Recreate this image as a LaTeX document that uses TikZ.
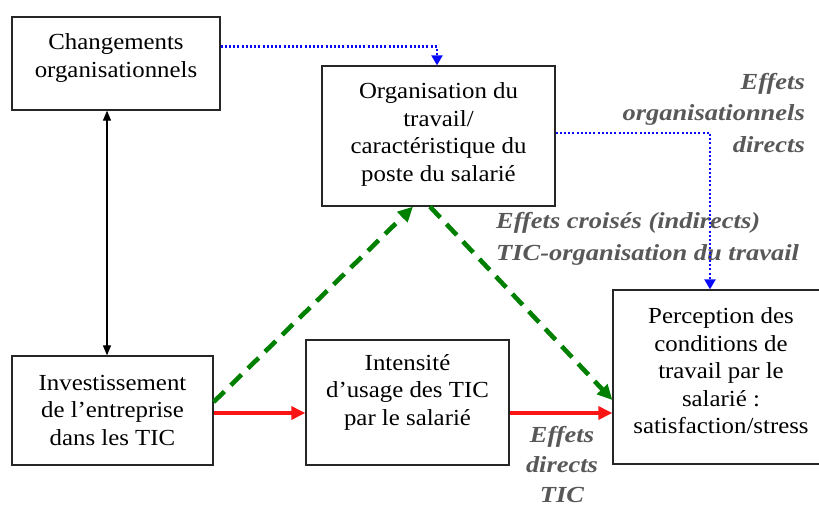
\documentclass[tikz,border=0pt]{standalone}
\usepackage{fontspec}
\setmainfont{Liberation Serif}[FakeStretch=1.08]
\newfontfamily\labfont{Liberation Serif}[FakeStretch=1.15]
\usetikzlibrary{arrows.meta}
\definecolor{labgray}{RGB}{88,88,88}
\definecolor{dotblue}{RGB}{10,10,250}
\definecolor{dgreen}{RGB}{0,128,0}
\definecolor{rred}{RGB}{250,20,20}
\tikzset{
  box/.style={draw=black!85, line width=1.3pt, rectangle, inner sep=0pt},
  txt/.style={align=center, font=\fontsize{23}{27.5}\selectfont, inner sep=0pt},
  lab/.style={text=labgray, font=\labfont\bfseries\itshape\fontsize{23}{31.5}\selectfont, inner sep=0pt},
  blueline/.style={draw=dotblue, line width=2.2pt, dash pattern=on 2pt off 2.2pt, -{Triangle[length=10pt,width=11pt,fill=dotblue]}},
  blackline/.style={draw=black, line width=1.1pt, {Triangle[length=10pt,width=8pt]}-{Triangle[length=10pt,width=8pt]}},
  redline/.style={draw=rred, line width=3.2pt, -{Triangle[length=14pt,width=13pt]}},
  greenline/.style={draw=dgreen, line width=4.6pt, dash pattern=on 15pt off 9pt, -{Triangle[length=15pt,width=14pt,fill=dgreen]}},
}
\begin{document}
\begin{tikzpicture}[x=1pt,y=-1pt]
\clip (0,0) rectangle (819,508);
\fill[white] (0,0) rectangle (819,508);
% boxes
\node[box, minimum width=208pt, minimum height=93pt] (b1) at (116,63.5) {};
\node[box, minimum width=233pt, minimum height=140pt] (b2) at (438.5,136) {};
\node[box, minimum width=201pt, minimum height=109pt] (b3) at (112.5,410.5) {};
\node[box, minimum width=203pt, minimum height=125pt] (b4) at (407.5,402.5) {};
\node[box, minimum width=217pt, minimum height=174pt] (b5) at (721.5,377) {};
% box texts
\node[txt] (t1) at (116,58) {Changements\\organisationnels};
\node[txt] (t2) at (438.5,134.5) {Organisation du\\travail/\\caractéristique du\\poste du salarié};
\node[txt] (t3) at (112.5,410) {Investissement\\de l’entreprise\\dans les TIC};
\node[txt] (t4) at (407.5,392) {Intensité\\d’usage des TIC\\par le salarié};
\node[txt] (t5) at (721,371) {Perception des\\conditions de\\travail par le\\salarié :\\satisfaction/stress};
% labels
\node[lab, align=right, anchor=east] (l1) at (805,113) {Effets\\organisationnels\\directs};
\node[lab, align=left, anchor=west] (l2) at (496,239) {Effets croisés (indirects)\\TIC-organisation du travail};
\node[lab, align=center, font=\labfont\bfseries\itshape\fontsize{23}{30}\selectfont] (l3) at (562,465) {Effets\\directs\\TIC};
% connectors
\coordinate (c1) at (437,46.5);
\coordinate (c2) at (710,133);
\draw[blueline] (b1.east |- c1) -- (c1) -- (c1 |- b2.north);
\draw[blueline] (b2.east |- c2) -- (c2) -- (c2 |- b5.north);
\draw[blackline] (b1.south -| 107,0) -- (b3.north -| 107,0);
\draw[redline] (b3.east |- 0,413) -- (b4.west |- 0,413);
\draw[redline] (b4.east |- 0,413) -- (b5.west |- 0,413);
\draw[greenline] (b3.east |- 0,402) -- (b2.south -| 413,0);
\draw[greenline] (b2.south -| 430,0) -- (b5.west |- 0,400);
\end{tikzpicture}
\end{document}
